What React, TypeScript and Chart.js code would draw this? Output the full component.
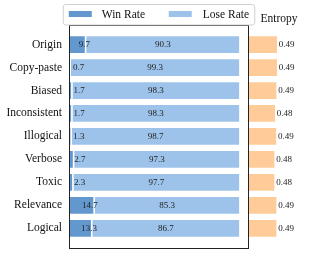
import React, { useEffect, useRef } from "react";
import { Chart, registerables } from "chart.js";

Chart.register(...registerables);

const categories = ["Origin", "Copy-paste", "Biased", "Inconsistent", "Illogical", "Verbose", "Toxic", "Relevance", "Logical"];
const winRate = [9.7, 0.7, 1.7, 1.7, 1.3, 2.7, 2.3, 14.7, 13.3];
const loseRate = [90.3, 99.3, 98.3, 98.3, 98.7, 97.3, 97.7, 85.3, 86.7];
const entropy = [0.494, 0.494, 0.491, 0.484, 0.49, 0.481, 0.481, 0.491, 0.491];
const seriesNames = ["Win Rate", "Lose Rate"];
const entropyTitle = "Entropy";

const WIN_COLOR = "#6398cf";
const LOSE_COLOR = "#9dc3ea";
const ENT_COLOR = "#ffcc99";
const FONT = "'Liberation Serif', 'DejaVu Serif', serif";

const overlayPlugin = {
  id: "overlay",
  afterDatasetsDraw(chart: any) {
    const ctx = chart.ctx;
    const area = chart.chartArea;
    const xs = chart.scales.x;
    ctx.save();
    ctx.font = `9px ${FONT}`;
    ctx.fillStyle = "#222";
    ctx.textBaseline = "middle";
    const winMeta = chart.getDatasetMeta(0);
    const loseMeta = chart.getDatasetMeta(1);
    const entMeta = chart.getDatasetMeta(2);
    winMeta.data.forEach((el: any, i: number) => {
      const start = Math.min(el.base, el.x);
      const w = Math.abs(el.x - el.base);
      ctx.textAlign = "left";
      ctx.fillText(String(winRate[i]), start + 3.5 + w * 0.38, el.y);
    });
    loseMeta.data.forEach((el: any, i: number) => {
      ctx.textAlign = "center";
      ctx.fillText(String(loseRate[i]), (el.x + el.base) / 2, el.y);
    });
    entMeta.data.forEach((el: any, i: number) => {
      ctx.textAlign = "left";
      ctx.fillText(entropy[i].toFixed(2), el.x + 1, el.y);
    });
    ctx.strokeStyle = "#222";
    ctx.lineWidth = 1;
    const l = Math.round(xs.left) + 0.5;
    const r = Math.round(xs.right) - 0.5;
    const t = Math.round(area.top) + 0.5;
    const b = Math.round(area.bottom) - 0.5;
    ctx.strokeRect(l, t, r - l, b - t);
    ctx.restore();
  },
  afterDraw(chart: any) {
    const ctx = chart.ctx;
    const xs = chart.scales.x;
    const x2 = chart.scales.x2;
    ctx.save();
    const cx = (xs.left + xs.right) / 2;
    const lw = 191.5;
    const lx = cx - lw / 2;
    const ly = 4.5;
    const lh = 20.5;
    ctx.beginPath();
    ctx.roundRect(lx, ly, lw, lh, 2.5);
    ctx.fillStyle = "rgba(255,255,255,0.85)";
    ctx.fill();
    ctx.strokeStyle = "#d0d0d0";
    ctx.lineWidth = 1;
    ctx.stroke();
    const items = [
      { name: seriesNames[0], color: WIN_COLOR, sx: 5.5, tx: 38.5 },
      { name: seriesNames[1], color: LOSE_COLOR, sx: 105.5, tx: 139.5 },
    ];
    ctx.font = `11.5px ${FONT}`;
    ctx.textBaseline = "middle";
    ctx.textAlign = "left";
    items.forEach((it) => {
      ctx.fillStyle = it.color;
      ctx.fillRect(lx + it.sx, 11, 23, 6);
      ctx.fillStyle = "#111";
      ctx.fillText(it.name, lx + it.tx, 14.5);
    });
    ctx.textAlign = "center";
    ctx.fillText(entropyTitle, (x2.left + x2.right) / 2, 18.5);
    ctx.restore();
  },
};

export default function App() {
  const ref = useRef<HTMLCanvasElement | null>(null);
  useEffect(() => {
    if (!ref.current) return;
    const chart = new Chart(ref.current, {
      type: "bar",
      data: {
        datasets: [
          {
            label: seriesNames[0],
            data: categories.map((_, i) => ({ x: winRate[i], y: i })),
            backgroundColor: WIN_COLOR,
            borderColor: "#ffffff",
            borderWidth: 0.8,
            borderSkipped: false,
            xAxisID: "x",
            stack: "s",
          },
          {
            label: seriesNames[1],
            data: categories.map((_, i) => ({ x: loseRate[i], y: i })),
            backgroundColor: LOSE_COLOR,
            borderColor: "#ffffff",
            borderWidth: 0.8,
            borderSkipped: false,
            xAxisID: "x",
            stack: "s",
          },
          {
            label: entropyTitle,
            data: categories.map((_, i) => ({ x: entropy[i], y: i })),
            backgroundColor: ENT_COLOR,
            borderColor: "#ffffff",
            borderWidth: 0.8,
            borderSkipped: false,
            xAxisID: "x2",
            stack: "s",
          },
        ],
      } as any,
      options: {
        indexAxis: "y",
        responsive: false,
        animation: false,
        layout: { padding: { left: 0, top: 24.5, right: 5, bottom: 4.5 } },
        datasets: { bar: { barPercentage: 0.8, categoryPercentage: 1 } } as any,
        plugins: { legend: { display: false }, tooltip: { enabled: false } },
        scales: {
          x: {
            type: "linear",
            display: false,
            min: 0,
            max: 105.3,
            stacked: true,
            stack: "xs",
            stackWeight: 180,
            afterFit: (scale: any) => {
              scale.height = 0;
            },
          } as any,
          x2: {
            type: "linear",
            position: "bottom",
            display: false,
            min: 0.35,
            max: 0.65,
            stacked: false,
            stack: "xs",
            stackWeight: 60,
            afterFit: (scale: any) => {
              scale.height = 0;
            },
          } as any,
          y: {
            type: "linear",
            reverse: true,
            offset: false,
            min: -0.875,
            max: 8.88,
            grid: { display: false, drawTicks: false, offset: false },
            border: { display: false },
            afterFit: (scale: any) => {
              scale.width = 69;
              scale.paddingTop = 0;
              scale.paddingBottom = 0;
            },
            ticks: {
              stepSize: 1,
              includeBounds: false,
              autoSkip: false,
              padding: 7,
              color: "#111",
              font: { family: FONT, size: 11.5 },
              callback: (v: any) => (Number.isInteger(v) && categories[v] !== undefined ? categories[v] : ""),
            },
          } as any,
        },
      },
      plugins: [overlayPlugin],
    });
    return () => chart.destroy();
  }, []);
  return (
    <div style={{ position: "fixed", left: 0, top: 0, width: 314, height: 253, background: "#fff" }}>
      <canvas ref={ref} width={314} height={253} style={{ width: 314, height: 253, display: "block" }} />
    </div>
  );
}
